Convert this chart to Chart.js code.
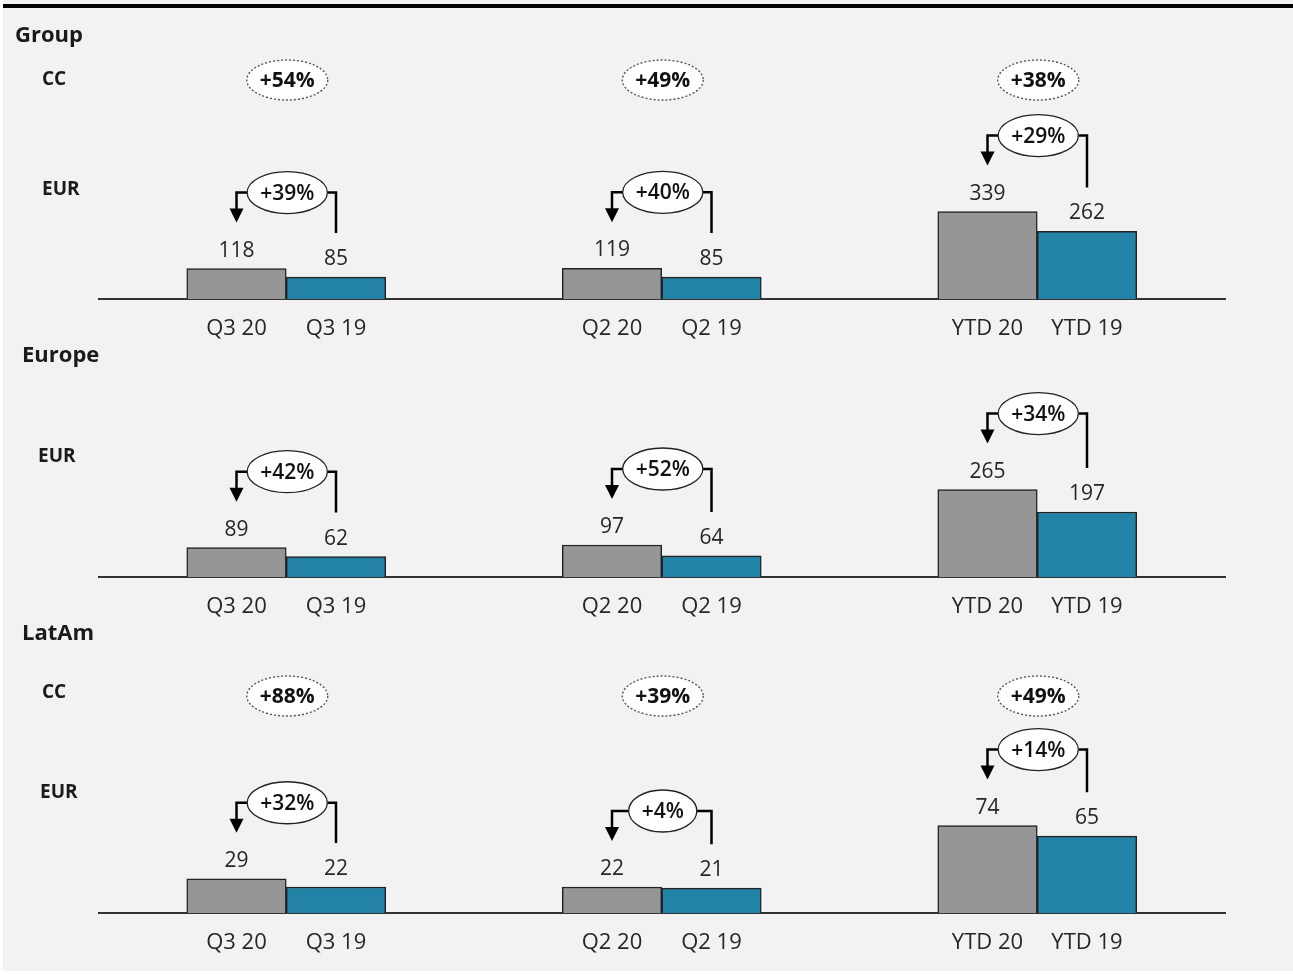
<!DOCTYPE html>
<html>
<head>
<meta charset="utf-8">
<script src="https://cdn.jsdelivr.net/npm/chart.js@4.4.1/dist/chart.umd.min.js"></script>
<style>
  html, body { margin: 0; padding: 0; background: #fff; }
  #page { position: relative; width: 1293px; height: 974px; overflow: hidden; }
  #panel { position: absolute; left: 3px; top: 0; width: 1290px; height: 971px; background: #f2f2f2; }
  #rule { position: absolute; left: 3px; top: 4px; width: 1290px; height: 3.5px; background: #000; }
  canvas { position: absolute; left: 0; }
</style>
</head>
<body>
<div id="page">
  <div id="panel"></div>
  <div id="rule"></div>
  <canvas id="groupChart" width="1293" height="345" style="top:0px"></canvas>
  <canvas id="europeChart" width="1293" height="280" style="top:340px"></canvas>
  <canvas id="latamChart" width="1293" height="359" style="top:615px"></canvas>
</div>
<script>
// periods
const categories = ["Q3", "Q2", "YTD"];
const periods2020 = ["Q3 20", "Q2 20", "YTD 20"];
const periods2019 = ["Q3 19", "Q2 19", "YTD 19"];

// Group (EUR m)
const groupEur2020 = [118, 119, 339];
const groupEur2019 = [85, 85, 262];
const groupEurGrowth = [39, 40, 29];
const groupCcGrowth = [54, 49, 38];

// Europe (EUR m)
const europeEur2020 = [89, 97, 265];
const europeEur2019 = [62, 64, 197];
const europeEurGrowth = [42, 52, 34];

// LatAm (EUR m)
const latamEur2020 = [29, 22, 74];
const latamEur2019 = [22, 21, 65];
const latamEurGrowth = [32, 4, 14];
const latamCcGrowth = [88, 39, 49];

const GREY = "#969696";
const TEAL = "#2383a7";
const FONT = "'Open Sans', 'Noto Sans', sans-serif";
const PLOT_H = 200;   // height of the plot area in px
const TALLEST = 87;   // px height of the tallest bar in each row

const pct = v => "+" + v + "%";

// =========================
// ANNOTATION PLUGIN
// =========================
const annotate = {
    id: "annotate",
    afterDatasetsDraw(chart, args, o) {
        const { ctx, chartArea, scales: { x } } = chart;
        const cur = chart.getDatasetMeta(0).data;
        const prev = chart.getDatasetMeta(1).data;
        ctx.save();
        ctx.textBaseline = "middle";

        // row title + unit labels
        ctx.fillStyle = "#1a1a1a";
        ctx.textAlign = "left";
        ctx.font = `bold 22px ${FONT}`;
        ctx.fillText(o.title, o.titleX, o.titleY);
        ctx.font = `bold 19px ${FONT}`;
        if (o.cc) ctx.fillText("CC", o.ccX, o.ccLabelY);
        ctx.fillText("EUR", o.eurX, o.eurLabelY);

        cur.forEach((bar, i) => {
            const other = prev[i];
            ctx.textAlign = "center";
            ctx.fillStyle = "#262626";

            // values above bars
            ctx.font = `21px ${FONT}`;
            ctx.fillText(o.cur[i], bar.x, bar.y - 18);
            ctx.fillText(o.prev[i], other.x, other.y - 18);

            // period labels under the axis
            ctx.font = `22px ${FONT}`;
            ctx.fillText(periods2020[i], bar.x, chartArea.bottom + 30);
            ctx.fillText(periods2019[i], other.x, chartArea.bottom + 30);

            const cx = x.getPixelForValue(i) + 1;

            // constant-currency bubble
            if (o.cc) {
                ctx.font = `bold 21px ${FONT}`;
                const t = pct(o.cc[i]);
                const rx = ctx.measureText(t).width / 2 + 13;
                ctx.beginPath();
                ctx.ellipse(cx, o.ccY, rx, 20, 0, 0, Math.PI * 2);
                ctx.fillStyle = "#fff";
                ctx.fill();
                ctx.setLineDash([2, 2]);
                ctx.strokeStyle = "#555";
                ctx.lineWidth = 1.4;
                ctx.stroke();
                ctx.setLineDash([]);
                ctx.fillStyle = "#111";
                ctx.fillText(t, cx, o.ccY + 1);
            }

            // EUR growth bracket: from 2019 bar back to 2020 bar
            const by = Math.min(bar.y, other.y) - 76;
            ctx.font = `600 21px ${FONT}`;
            const t = pct(o.growth[i]);
            const rx = ctx.measureText(t).width / 2 + 13;
            ctx.strokeStyle = "#000";
            ctx.lineWidth = 2.5;
            ctx.beginPath();
            ctx.moveTo(cx - rx, by);
            ctx.lineTo(bar.x, by);
            ctx.lineTo(bar.x, by + 17);
            ctx.moveTo(cx + rx, by);
            ctx.lineTo(other.x, by);
            ctx.lineTo(other.x, other.y - 44);
            ctx.stroke();
            ctx.fillStyle = "#000";
            ctx.beginPath();
            ctx.moveTo(bar.x - 7, by + 16);
            ctx.lineTo(bar.x + 7, by + 16);
            ctx.lineTo(bar.x, by + 30);
            ctx.closePath();
            ctx.fill();

            ctx.beginPath();
            ctx.ellipse(cx, by, rx, 21, 0, 0, Math.PI * 2);
            ctx.fillStyle = "#fff";
            ctx.fill();
            ctx.lineWidth = 1.3;
            ctx.strokeStyle = "#222";
            ctx.stroke();
            ctx.fillStyle = "#111";
            ctx.fillText(t, cx, by + 1);
        });
        ctx.restore();
    }
};

// =========================
// ROW CHARTS
// =========================
const makeRow = (id, cur, prev, axisY, height, notes) => {
    const ctx = document.getElementById(id).getContext("2d");
    const top = Math.max(...cur, ...prev);
    return new Chart(ctx, {
        type: "bar",
        data: {
            labels: categories,
            datasets: [
                { label: "2020", data: cur, backgroundColor: GREY, borderColor: "#222", borderWidth: 1.5, borderSkipped: "bottom" },
                { label: "2019", data: prev, backgroundColor: TEAL, borderColor: "#222", borderWidth: 1.5, borderSkipped: "bottom" }
            ]
        },
        options: {
            responsive: false,
            animation: false,
            barThickness: 99.5,
            layout: { padding: { left: 98.5, right: 68, top: axisY - PLOT_H, bottom: height - axisY - 1 } },
            plugins: {
                legend: { display: false },
                tooltip: { enabled: false },
                annotate: { cur, prev, ...notes }
            },
            scales: {
                x: {
                    grid: { display: false, drawTicks: false },
                    ticks: { display: false },
                    border: { display: true, color: "#333", width: 2 }
                },
                y: { display: false, min: 0, max: top * PLOT_H / TALLEST }
            }
        },
        plugins: [annotate]
    });
};

makeRow("groupChart", groupEur2020, groupEur2019, 298, 345, {
    title: "Group", titleX: 15, titleY: 36,
    cc: groupCcGrowth, ccX: 42, ccLabelY: 80, ccY: 80,
    eurX: 42, eurLabelY: 190, growth: groupEurGrowth
});
makeRow("europeChart", europeEur2020, europeEur2019, 236, 280, {
    title: "Europe", titleX: 22, titleY: 16,
    eurX: 38, eurLabelY: 117, growth: europeEurGrowth
});
makeRow("latamChart", latamEur2020, latamEur2019, 297, 359, {
    title: "LatAm", titleX: 22, titleY: 19,
    cc: latamCcGrowth, ccX: 42, ccLabelY: 78, ccY: 81,
    eurX: 40, eurLabelY: 178, growth: latamEurGrowth
});
</script>
</body>
</html>
